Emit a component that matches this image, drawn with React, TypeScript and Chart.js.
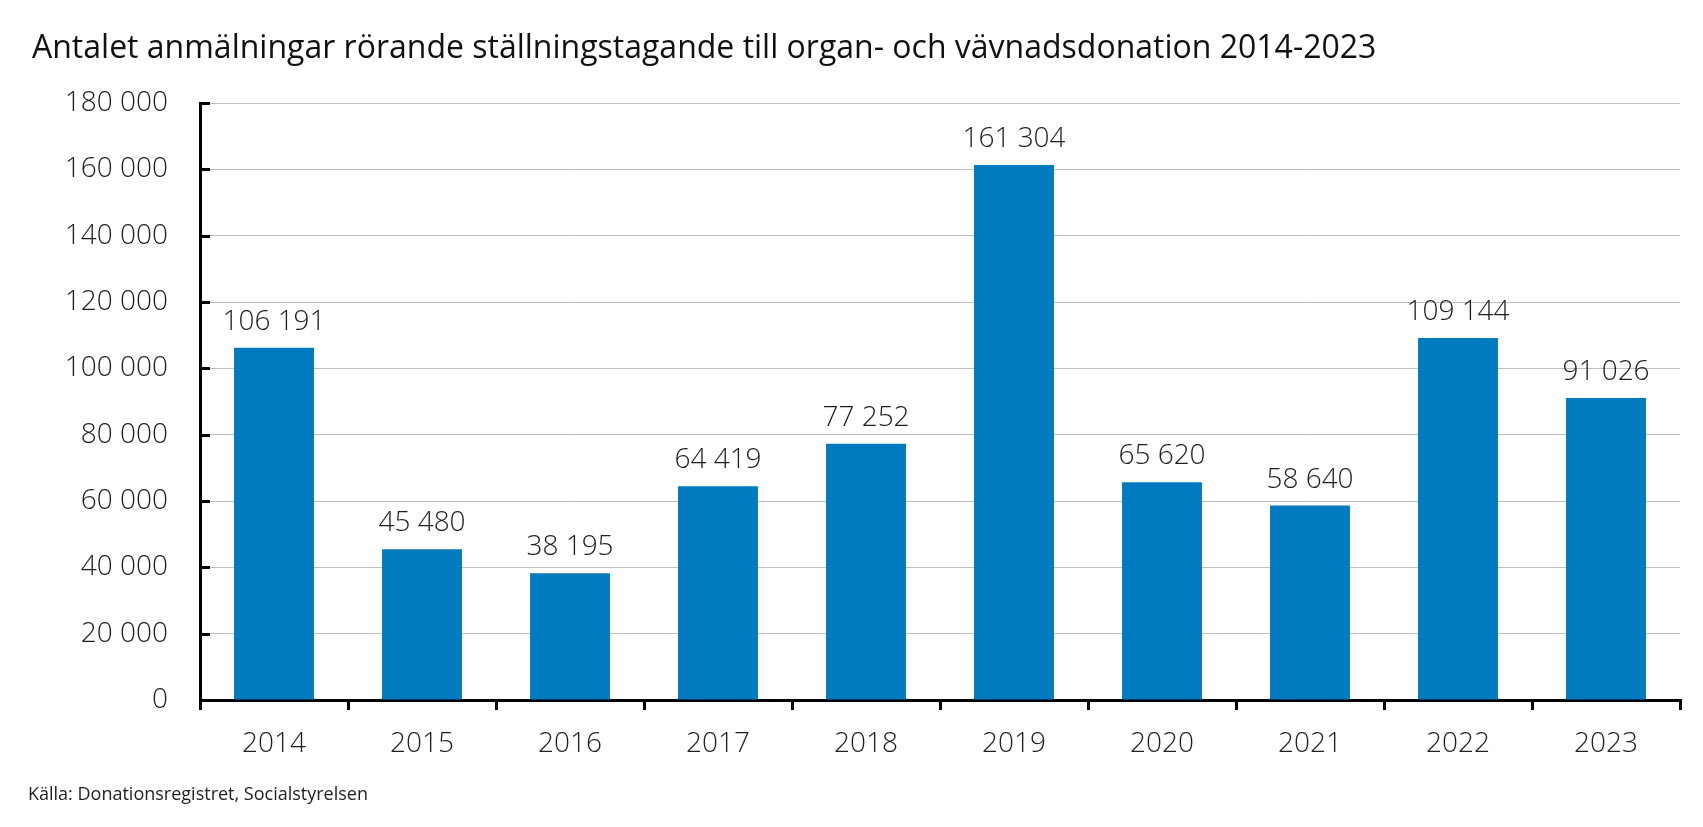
import React, { useEffect, useRef } from "react";
import { Chart, registerables } from "chart.js";

Chart.register(...registerables);

const categories = ["2014", "2015", "2016", "2017", "2018", "2019", "2020", "2021", "2022", "2023"];
const values = [106191, 45480, 38195, 64419, 77252, 161304, 65620, 58640, 109144, 91026];
const yTicks = [0, 20000, 40000, 60000, 80000, 100000, 120000, 140000, 160000, 180000];
const titleText = "Antalet anmälningar rörande ställningstagande till organ- och vävnadsdonation 2014-2023";
const footerText = "Källa: Donationsregistret, Socialstyrelsen";

const FONT = "'Open Sans', 'Noto Sans', sans-serif";
const fmt = (v: number) => String(Math.round(v)).replace(/\B(?=(\d{3})+(?!\d))/g, " ");

const decor = {
  id: "decor",
  afterDatasetsDraw(chart: any) {
    const ctx = chart.ctx;
    const meta = chart.getDatasetMeta(0);
    ctx.save();
    ctx.font = `300 28px ${FONT}`;
    ctx.fillStyle = "#1e1e1e";
    ctx.textAlign = "center";
    ctx.textBaseline = "alphabetic";
    meta.data.forEach((bar: any, i: number) => {
      ctx.fillText(fmt(values[i]), bar.x, bar.y - 18);
    });
    ctx.restore();
  },
  afterDraw(chart: any) {
    const ctx = chart.ctx;
    const y = chart.scales.y;
    const area = chart.chartArea;
    ctx.save();
    ctx.strokeStyle = "#000";
    ctx.lineWidth = 3;
    y.ticks.forEach((t: any, i: number) => {
      const py = Math.round(y.getPixelForTick(i)) + 0.5;
      ctx.beginPath();
      ctx.moveTo(area.left, py);
      ctx.lineTo(area.left + 10, py);
      ctx.stroke();
    });
    ctx.fillStyle = "#111";
    ctx.textAlign = "left";
    ctx.textBaseline = "alphabetic";
    ctx.font = `400 32px ${FONT}`;
    ctx.fillText(titleText, 32, 58);
    ctx.font = `400 18px ${FONT}`;
    ctx.fillStyle = "#222";
    ctx.fillText(footerText, 28, 800);
    ctx.restore();
  },
};

export default function App() {
  const ref = useRef<HTMLCanvasElement>(null);
  useEffect(() => {
    if (!ref.current) return;
    const chart = new Chart(ref.current, {
      type: "bar",
      data: {
        labels: categories,
        datasets: [
          {
            data: values,
            backgroundColor: "#007BC0",
            barPercentage: 0.54,
            categoryPercentage: 1,
          },
        ],
      },
      options: {
        responsive: false,
        animation: false,
        layout: { padding: { top: 103, left: 0, right: 23, bottom: 0 } },
        plugins: { legend: { display: false }, tooltip: { enabled: false }, title: { display: false } },
        scales: {
          x: {
            offset: true,
            grid: {
              offset: true,
              drawOnChartArea: false,
              drawTicks: true,
              tickLength: 10,
              color: "#000",
              lineWidth: 3,
            },
            border: { display: true, color: "#000", width: 3 },
            ticks: { font: { family: FONT, size: 28, weight: "300" as any }, color: "#1e1e1e", padding: 17 },
            afterFit: (s: any) => {
              s.height = 127;
            },
          },
          y: {
            min: 0,
            max: 180000,
            afterBuildTicks: (s: any) => {
              s.ticks = yTicks.map((v) => ({ value: v }));
            },
            grid: { color: "#BFBFBF", lineWidth: 1, drawTicks: false },
            border: { display: true, color: "#000", width: 3 },
            ticks: {
              font: { family: FONT, size: 28, weight: "300" as any },
              color: "#1e1e1e",
              padding: 32,
              callback: (v: any) => fmt(Number(v)),
            },
            afterFit: (s: any) => {
              s.width = 200;
            },
          },
        },
      },
      plugins: [decor],
    });
    return () => chart.destroy();
  }, []);
  return (
    <div style={{ position: "absolute", left: 0, top: 0, width: 1703, height: 827, background: "#fff" }}>
      <canvas ref={ref} width={1703} height={827} style={{ display: "block" }} />
    </div>
  );
}
